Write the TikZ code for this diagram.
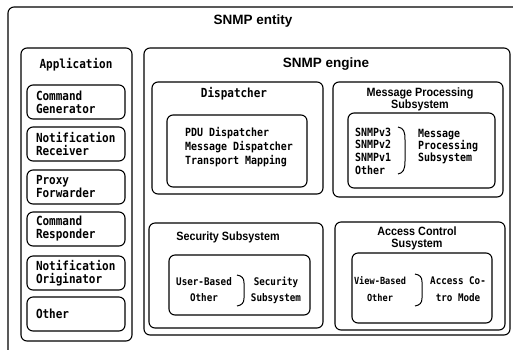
\documentclass[tikz,border=0pt]{standalone}
\usepackage{fontspec}
\setmainfont{Liberation Sans}
\newfontfamily\monofnt[FakeStretch=0.88]{DejaVu Sans Mono}
\newfontfamily\headfnt[FakeStretch=0.9]{Liberation Sans}
\usepackage{tikz}
\usetikzlibrary{calc}

\tikzset{
  frame/.style={line width=1.1pt, rounded corners=6pt},
  brk/.style={line width=1pt},
  bighead/.style={font=\fontsize{13.5}{15}\selectfont\bfseries, inner sep=0pt},
  head/.style={font=\fontsize{12}{12}\selectfont\headfnt\bfseries, align=center, inner sep=0pt},
  monohead/.style={font=\fontsize{12.5}{13}\selectfont\monofnt\bfseries, inner sep=0pt},
  appbox/.style={draw, frame, font=\fontsize{12.5}{13}\selectfont\monofnt\bfseries,
    align=left, text width=80pt, inner xsep=9pt, inner ysep=0pt, minimum height=34pt},
  mono/.style={font=\fontsize{11.5}{13}\selectfont\monofnt\bfseries, inner sep=0pt},
}

\begin{document}
\begin{tikzpicture}[x=1pt, y=-1pt]
    \useasboundingbox (0,0) rectangle (513,349);

    % outer entity frame, runs off the page at right and bottom
    \begin{scope}
      \clip (0,0) rectangle (513,349);
      \draw[frame] (8,7) rectangle (530,366);
    \end{scope}
    \node[bighead] (entityT) at (253,21) {SNMP entity};

    % applications column
    \draw[frame] (21,48) rectangle (132,341);
    \node[monohead] (appT) at (76,65) {Application};
    \foreach \y/\txt [count=\i] in {102/{Command\\Generator}, 144/{Notification\\Receiver},
        187/{Proxy\\Forwarder}, 229/{Command\\Responder}, 273/{Notification\\Originator},
        314/{Other}}
      \node[appbox] (app\i) at (76,\y) {\txt};

    % engine
    \draw[frame] (144,48) rectangle (510,335);
    \node[bighead] (engineT) at (326,64) {SNMP engine};

    % dispatcher
    \draw[frame] (152,82) rectangle (323,194);
    \node[monohead] (dispT) at (234,94) {Dispatcher};
    \draw[frame] (167,115) rectangle (307,187);
    \node[mono, anchor=west, align=left, font=\fontsize{11.3}{14}\selectfont\monofnt\bfseries]
      (dispL) at (185,147) {PDU Dispatcher\\Message Dispatcher\\Transport Mapping};

    % message processing
    \draw[frame] (333,82) rectangle (503,197);
    \node[head] (mpT) at (420,99) {Message Processing\\Subsystem};
    \draw[frame] (348,113) rectangle (495,188);
    \node[mono, anchor=west, align=left, font=\fontsize{11.3}{12.7}\selectfont\monofnt\bfseries]
      (mpL) at (355,151) {SNMPv3\\SNMPv2\\SNMPv1\\Other};
    \draw[brk] (398,127) .. controls (404,128) and (405,132) .. (405,140) -- (405,161)
      .. controls (405,170) and (403,173) .. (398,174);
    \node[mono, anchor=west, align=left, font=\fontsize{11.3}{12}\selectfont\monofnt\bfseries]
      (mpR) at (418,147) {Message\\Processing\\Subsystem};

    % security
    \draw[frame] (149,223) rectangle (323,328);
    \node[head] (secT) at (228,237) {Security Subsystem};
    \draw[frame] (169,255) rectangle (310,315);
    \node[mono, align=center, font=\fontsize{10.5}{16}\selectfont\monofnt\bfseries]
      (secL) at (204,290) {User-Based\\Other};
    \draw[brk] (237,275) .. controls (242,276) and (244,278) .. (244,283) -- (244,298)
      .. controls (244,303) and (242,305) .. (237,306);
    \node[mono, align=center, font=\fontsize{10.5}{16}\selectfont\monofnt\bfseries]
      (secR) at (276,290) {Security\\Subsystem};

    % access control
    \draw[frame] (335,222) rectangle (505,330);
    \node[head] (acT) at (417,238) {Access Control\\Susystem};
    \draw[frame] (352,253) rectangle (492,323);
    \node[mono, align=center, font=\fontsize{9.8}{17}\selectfont\monofnt\bfseries]
      (acL) at (380,289) {View-Based\\Other};
    \draw[brk] (415,274) .. controls (420,275) and (422,277) .. (422,282) -- (422,298)
      .. controls (422,303) and (420,305) .. (415,306);
    \node[mono, align=center, font=\fontsize{10.5}{17}\selectfont\monofnt\bfseries]
      (acR) at (458,289) {Access Co-\\tro Mode};
\end{tikzpicture}
\end{document}
